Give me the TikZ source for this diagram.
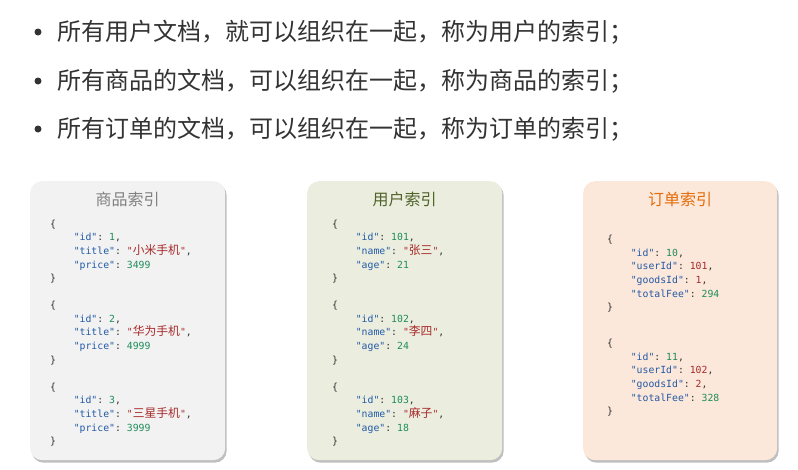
\documentclass[tikz,border=0pt]{standalone}
\usepackage{fontspec}
\setmainfont{Noto Sans CJK SC}
\setmonofont{DejaVu Sans Mono}
\newfontfamily\cjk{Noto Sans CJK SC}
\usetikzlibrary{positioning, shadows}
\definecolor{txtgray}{HTML}{333333}
\definecolor{boxgray}{HTML}{F2F2F2}
\definecolor{boxgreen}{HTML}{EBEEDF}
\definecolor{boxpeach}{HTML}{FCE8DA}
\definecolor{tgray}{HTML}{808080}
\definecolor{tgreen}{HTML}{4F6228}
\definecolor{torange}{HTML}{E46C0A}
\definecolor{keyblue}{HTML}{2259A6}
\definecolor{strred}{HTML}{A82A2A}
\definecolor{numgreen}{HTML}{1E8C5A}
\tikzset{
  idxbox/.style={rounded corners=12pt,anchor=north west,minimum width=195pt,minimum height=279pt,
    drop shadow={shadow xshift=1.5pt,shadow yshift=-2.5pt,fill=black,opacity=0.25}},
  idxtitle/.style={inner sep=0pt,font=\fontsize{16}{18}\selectfont},
  doc/.style={align=left,inner sep=0pt,anchor=north west,text=txtgray,
    font=\ttfamily\fontsize{9.8}{13.6}\selectfont},
  point/.style={circle,fill=txtgray,inner sep=0pt,minimum size=7pt},
  pointtext/.style={inner sep=0pt,text=txtgray,font=\fontsize{24}{26}\selectfont}
}
\newcommand\jkey[1]{\textcolor{keyblue}{"#1"}}
\newcommand\jstr[1]{\textcolor{strred}{"{\cjk\fontsize{11.8}{13.6}\selectfont #1}"}}
\newcommand\jnum[1]{\textcolor{numgreen}{#1}}
\newcommand\jred[1]{\textcolor{strred}{#1}}
\newcommand\ind{\phantom{xxxx}}

\begin{document}
\begin{tikzpicture}[x=1pt,y=-1pt,node distance=15.5pt]
\fill[white] (0,0) rectangle (798,469);
\useasboundingbox (0,0) rectangle (798,469);

% bullet list
\node[point] (p1) at (38,32) {};
\node[point] (p2) at (38,81) {};
\node[point] (p3) at (38,129) {};
\node[pointtext, right=of p1] (l1) {所有用户文档，就可以组织在一起，称为用户的索引；};
\node[pointtext, right=of p2] (l2) {所有商品的文档，可以组织在一起，称为商品的索引；};
\node[pointtext, right=of p3] (l3) {所有订单的文档，可以组织在一起，称为订单的索引；};

% the three indices
\node[idxbox, fill=boxgray] (goods) at (30,181) {};
\node[idxbox, fill=boxgreen] (user) at (307,181) {};
\node[idxbox, fill=boxpeach, minimum width=194pt] (order) at (583,181) {};

\node[idxtitle, text=tgray] (tgoods) at ([yshift=-18pt]goods.north) {商品索引};
\node[idxtitle, text=tgreen] (tuser) at ([yshift=-18pt]user.north) {用户索引};
\node[idxtitle, text=torange] (torder) at ([yshift=-18pt]order.north) {订单索引};

% goods docs
\node[doc] (g1) at (50,219.6) {\{\\
  \ind\jkey{id}: \jnum{1},\\
  \ind\jkey{title}: \jstr{小米手机},\\
  \ind\jkey{price}: \jnum{3499}\\
  \}};
\node[doc] (g2) at (50,301.1) {\{\\
  \ind\jkey{id}: \jnum{2},\\
  \ind\jkey{title}: \jstr{华为手机},\\
  \ind\jkey{price}: \jnum{4999}\\
  \}};
\node[doc] (g3) at (50,382.6) {\{\\
  \ind\jkey{id}: \jnum{3},\\
  \ind\jkey{title}: \jstr{三星手机},\\
  \ind\jkey{price}: \jnum{3999}\\
  \}};

% user docs
\node[doc] (u1) at (332,219.6) {\{\\
  \ind\jkey{id}: \jnum{101},\\
  \ind\jkey{name}: \jstr{张三},\\
  \ind\jkey{age}: \jnum{21}\\
  \}};
\node[doc] (u2) at (332,301.1) {\{\\
  \ind\jkey{id}: \jnum{102},\\
  \ind\jkey{name}: \jstr{李四},\\
  \ind\jkey{age}: \jnum{24}\\
  \}};
\node[doc] (u3) at (332,382.6) {\{\\
  \ind\jkey{id}: \jnum{103},\\
  \ind\jkey{name}: \jstr{麻子},\\
  \ind\jkey{age}: \jnum{18}\\
  \}};

% order docs
\node[doc] (o1) at (607,235) {\{\\
  \ind\jkey{id}: \jnum{10},\\
  \ind\jkey{userId}: \jred{101},\\
  \ind\jkey{goodsId}: \jred{1},\\
  \ind\jkey{totalFee}: \jnum{294}\\
  \}};
\node[doc] (o2) at (607,339.1) {\{\\
  \ind\jkey{id}: \jnum{11},\\
  \ind\jkey{userId}: \jred{102},\\
  \ind\jkey{goodsId}: \jred{2},\\
  \ind\jkey{totalFee}: \jnum{328}\\
  \}};
\end{tikzpicture}
\end{document}
